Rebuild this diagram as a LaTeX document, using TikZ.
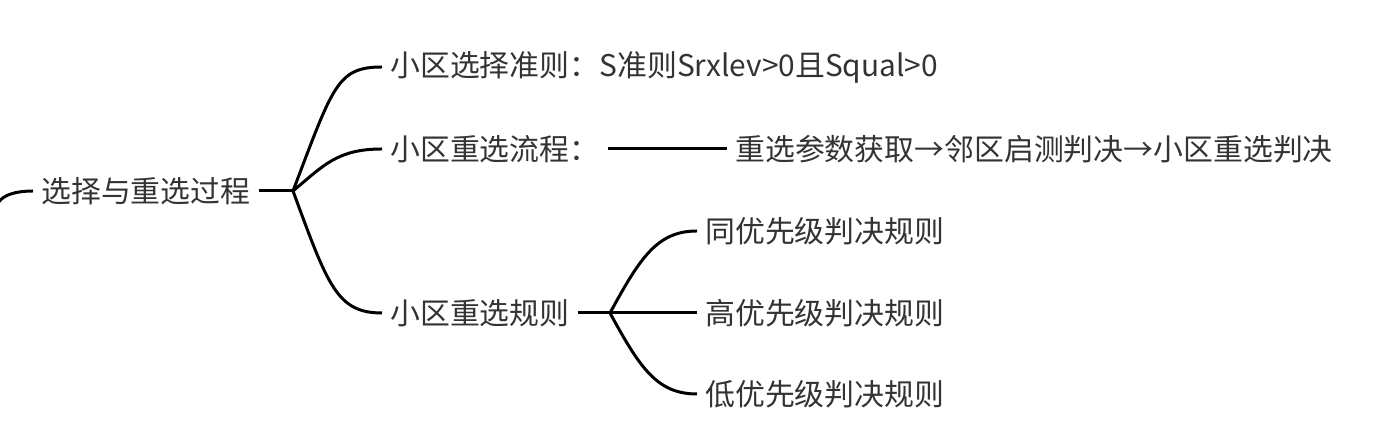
\documentclass[tikz,border=0pt]{standalone}
\usepackage{fontspec}
\newfontfamily\cjkfont{Noto Sans CJK SC}
\usepackage{tikz}
\definecolor{texto}{HTML}{333333}

\begin{document}
\begin{tikzpicture}[
  topico/.style={anchor=west, inner sep=0.16cm, text=texto,
    font=\cjkfont\fontsize{17pt}{20pt}\selectfont},
  ramo/.style={line width=1.7pt, black}
]
\useasboundingbox (0,0) rectangle (27.96,8.76);
% Raiz
\coordinate (ent) at (-0.05,4.68);
\node[topico] (raiz) at (0.66,4.94) {选择与重选过程};
\coordinate (j1) at (5.86,4.94);
\draw[ramo] (ent) .. controls +(0.1,0.2) and +(-0.3,0) .. (raiz.west);
\draw[ramo] (raiz.east) -- (j1);
% Primeiro nivel
\node[topico] (selecao) at (7.64,7.42) {小区选择准则：S准则Srxlev>0且Squal>0};
\node[topico] (fluxo) at (7.64,5.78) {小区重选流程：};
\node[topico] (regras) at (7.64,2.5) {小区重选规则};
\draw[ramo] (j1) .. controls +(0.8,2.1) and +(-0.9,0) .. (selecao.west);
\draw[ramo] (j1) .. controls +(0.6,0.5) and +(-0.9,0) .. (fluxo.west);
\draw[ramo] (j1) .. controls +(0.7,-1.9) and +(-0.9,0) .. (regras.west);
% Fluxo
\node[topico] (passos) at (14.54,5.78) {重选参数获取→邻区启测判决→小区重选判决};
\draw[ramo] (fluxo.east) -- (passos.west);
% Regras
\coordinate (j2) at (12.2,2.5);
\node[topico] (igual) at (13.94,4.14) {同优先级判决规则};
\node[topico] (alta) at (13.94,2.5) {高优先级判决规则};
\node[topico] (baixa) at (13.94,0.88) {低优先级判决规则};
\draw[ramo] (regras.east) -- (j2);
\draw[ramo] (j2) .. controls +(0.6,1.1) and +(-0.8,0) .. (igual.west);
\draw[ramo] (j2) -- (alta.west);
\draw[ramo] (j2) .. controls +(0.6,-1.1) and +(-0.8,0) .. (baixa.west);
\end{tikzpicture}
\end{document}
